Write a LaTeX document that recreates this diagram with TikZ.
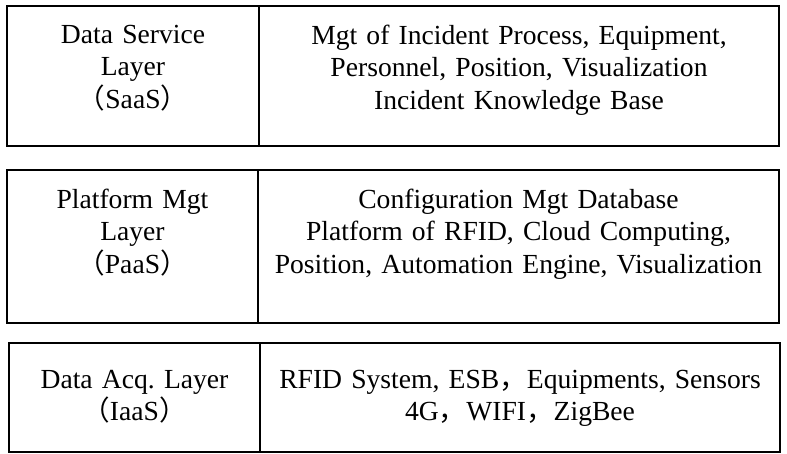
\documentclass[tikz,border=0pt]{standalone}
\usepackage{fontspec}
\setmainfont{Liberation Serif}
\newfontfamily\cjk{Noto Sans CJK SC}
\usepackage{tikz}
\usetikzlibrary{positioning}
\frenchspacing
\tikzset{
    layercell/.style={
        rectangle,
        draw=black,
        line width=1.5pt,
        inner sep=0pt,
        outer sep=0pt,
        anchor=north west
    },
    layertext/.style={
        inner sep=0pt,
        anchor=north,
        align=center,
        font=\fontsize{20.7}{24.4}\selectfont % same size everywhere
    }
}

\begin{document}
\begin{tikzpicture}[x=0.75pt, y=-0.75pt]

    \useasboundingbox (0,0) rectangle (787,453);

    % SaaS
    \node[layercell, minimum width=189pt, minimum height=105pt] (saas) at (7,6) {};
    \node[layercell, minimum width=390pt, minimum height=105pt] (saasdesc) at (saas.north east) {};
    \node[layertext, text width=180pt] (saastxt) at ([yshift=-14pt]saas.north) {
    Data Service\\
    Layer\\
    {\cjk （}SaaS{\cjk ）}
    };
    \node[layertext, text width=380pt] (saasdesctxt) at ([yshift=-14pt]saasdesc.north) {
    Mgt of Incident Process, Equipment,\\
    Personnel, Position, Visualization\\
    Incident Knowledge Base
    };

    % PaaS
    \node[layercell, minimum width=188.25pt, minimum height=114.75pt] (paas) at (7,170) {};
    \node[layercell, minimum width=390.75pt, minimum height=114.75pt] (paasdesc) at (paas.north east) {};
    \node[layertext, text width=180pt] (paastxt) at ([yshift=-14pt]paas.north) {
    Platform Mgt\\
    Layer\\
    {\cjk （}PaaS{\cjk ）}
    };
    \node[layertext, text width=380pt] (paasdesctxt) at ([yshift=-14pt]paasdesc.north) {
    Configuration Mgt Database\\
    Platform of RFID, Cloud Computing,\\
    Position, Automation Engine, Visualization
    };

    % IaaS
    \node[layercell, minimum width=188.25pt, minimum height=81.75pt] (iaas) at (9,343) {};
    \node[layercell, minimum width=390pt, minimum height=81.75pt] (iaasdesc) at (iaas.north east) {};
    \node[layertext, text width=180pt] (iaastxt) at ([yshift=-20pt]iaas.north) {
    Data Acq. Layer\\
    {\cjk （}IaaS{\cjk ）}
    };
    \node[layertext, text width=380pt] (iaasdesctxt) at ([yshift=-20pt]iaasdesc.north) {
    RFID System, ESB{\cjk ，}Equipments, Sensors\\
    4G{\cjk ，}WIFI{\cjk ，}ZigBee
    };

\end{tikzpicture}
\end{document}
